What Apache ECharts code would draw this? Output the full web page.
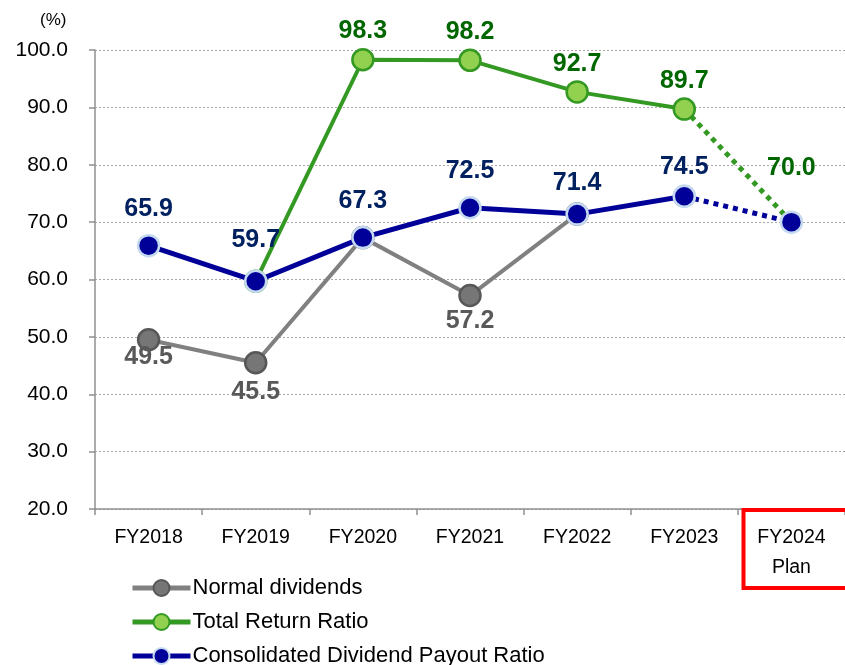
<!doctype html>
<html lang="en">
<head>
	<meta charset="utf-8">
	<title>Dividend Payout Ratio</title>
	<script src="https://cdn.jsdelivr.net/npm/echarts@6/dist/echarts.min.js"></script>
	<style>
		html, body { margin: 0; padding: 0; background: #fff; }
		#chart { width: 845px; height: 665px; }
	</style>
</head>
<body>
	<div id="chart"></div>
	<script>
		// categories and tick labels
		var categories = ['FY2018', 'FY2019', 'FY2020', 'FY2021', 'FY2022', 'FY2023', 'FY2024\nPlan'];
		// series values (%)
		var normalDividends = [49.5, 45.5, 67.3, 57.2, 71.4, null, null];
		var totalReturn = [null, 59.7, 98.3, 98.2, 92.7, 89.7, null];
		var totalReturnPlan = [null, null, null, null, null, 89.7, 70.0];
		var payoutRatio = [65.9, 59.7, 67.3, 72.5, 71.4, 74.5, null];
		var payoutRatioPlan = [null, null, null, null, null, 74.5, 70.0];

		var font = 'Liberation Sans';
		var gray = '#808080', green = '#339922', blue = '#000099';
		// label gaps (px) per point, just to sit the labels like the original
		var blueGap = [12, 17, 12, 12, 7, 5];
		var grayGap = [-7, 5, 0, 1, 0];

		function fmt(p) { return p.value.toFixed(1); }

		function grayData() {
			return normalDividends.map(function (v, i) {
				if (v == null) return v;
				// FY2020 / FY2022 sit under the blue marks, no own label
				if (i == 2 || i == 4) return { value: v, label: { show: false } };
				return { value: v, label: { distance: grayGap[i] } };
			});
		}
		function blueData() {
			return payoutRatio.map(function (v, i) {
				if (v == null) return v;
				return { value: v, label: { distance: blueGap[i] } };
			});
		}
		function greenPlanData() {
			return totalReturnPlan.map(function (v, i) {
				if (v == null) return v;
				if (i == 6) return { value: v, label: { show: true, distance: 41 } };
				return v;
			});
		}

		var option = {
			animation: false,
			grid: { left: 95, right: -5, top: 50, bottom: 156 },
			graphic: [
				{ type: 'text', left: 40, top: 12, style: { text: '(%)', font: '17px ' + font, fill: '#000' } },
				{ type: 'rect', shape: { x: 743.5, y: 510, width: 120, height: 78 }, style: { fill: 'none', stroke: '#ff0000', lineWidth: 4 }, z: 10 }
			],
			xAxis: {
				type: 'category',
				data: categories,
				boundaryGap: true,
				axisLine: { lineStyle: { color: '#909090', width: 1.5 } },
				axisTick: { show: true, length: 6, lineStyle: { color: '#909090', width: 1.5 } },
				axisLabel: { color: '#000', fontFamily: font, fontSize: 19.5, margin: 14, lineHeight: 30 },
				splitLine: { show: false }
			},
			yAxis: {
				type: 'value',
				min: 20, max: 100, interval: 10,
				axisLine: { show: true, lineStyle: { color: '#909090', width: 1.5 } },
				axisTick: { show: true, length: 6, inside: false, lineStyle: { color: '#909090', width: 1.5 } },
				axisLabel: { color: '#000', fontFamily: font, fontSize: 21, margin: 27, formatter: function (v) { return v.toFixed(1); } },
				splitLine: { lineStyle: { color: '#a6a6a6', type: [2, 2], width: 1 } }
			},
			legend: {
				orient: 'vertical',
				left: 130, top: 577, height: 150,
				padding: 0,
				itemWidth: 58, itemHeight: 20, itemGap: 12,
				lineStyle: { width: 5 },
				textStyle: { fontFamily: font, fontSize: 22, color: '#000', padding: [0, 0, 0, -3] },
				data: ['Normal dividends', 'Total Return Ratio', 'Consolidated Dividend Payout Ratio']
			},
			series: [
				{
					name: 'Normal dividends', type: 'line', z: 2,
					data: grayData(),
					symbol: 'circle', symbolSize: 21,
					lineStyle: { color: gray, width: 4 },
					itemStyle: { color: '#767676', borderColor: '#575757', borderWidth: 2.5 },
					label: { show: true, position: 'bottom', distance: 2, color: '#595959', fontFamily: font, fontSize: 25, fontWeight: 'bold', formatter: fmt }
				},
				{
					name: 'Total Return Ratio', type: 'line', z: 3,
					data: totalReturn,
					symbol: 'circle', symbolSize: 21,
					lineStyle: { color: green, width: 4 },
					itemStyle: { color: '#92d050', borderColor: green, borderWidth: 2.5 },
					label: { show: true, position: 'top', distance: 4, color: '#006600', fontFamily: font, fontSize: 25, fontWeight: 'bold', formatter: function (p) { return p.dataIndex == 1 ? '' : p.value.toFixed(1); } }
				},
				{
					name: 'Total Return Plan', type: 'line', z: 3,
					data: greenPlanData(),
					symbol: 'circle', symbolSize: 1, showSymbol: true,
					itemStyle: { color: 'rgba(0,0,0,0)' },
					lineStyle: { color: green, width: 5, type: [5, 5] },
					label: { show: false, position: 'top', color: '#006600', fontFamily: font, fontSize: 25, fontWeight: 'bold', formatter: fmt }
				},
				{
					name: 'Payout Plan', type: 'line', z: 4,
					data: payoutRatioPlan,
					symbol: 'circle', symbolSize: 21,
					lineStyle: { color: blue, width: 5, type: [5, 5] },
					itemStyle: { color: blue, borderColor: '#c5d9f1', borderWidth: 2.5 },
					label: { show: false }
				},
				{
					name: 'Consolidated Dividend Payout Ratio', type: 'line', z: 5,
					data: blueData(),
					symbol: 'circle', symbolSize: 21,
					lineStyle: { color: blue, width: 5 },
					itemStyle: { color: blue, borderColor: '#c5d9f1', borderWidth: 2.5 },
					label: { show: true, position: 'top', color: '#002060', fontFamily: font, fontSize: 25, fontWeight: 'bold', formatter: fmt }
				}
			]
		};

		var chart = echarts.init(document.getElementById('chart'));
		chart.setOption(option);
	</script>
</body>
</html>
